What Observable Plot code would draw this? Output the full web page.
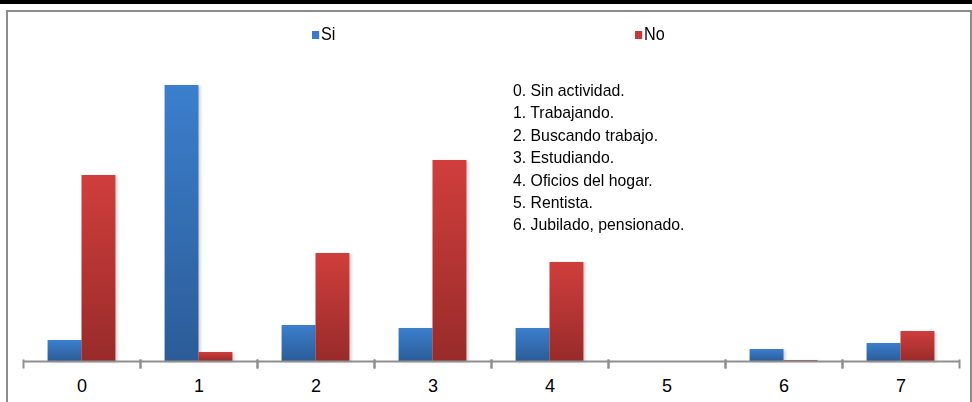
<!DOCTYPE html>
<html>
<head>
<meta charset="utf-8">
<script src="https://cdn.jsdelivr.net/npm/d3@7"></script>
<script src="https://cdn.jsdelivr.net/npm/@observablehq/plot@0.6"></script>
<style>
  html, body { margin: 0; padding: 0; background: #fff; }
  #wrap { position: relative; width: 972px; height: 402px; overflow: hidden; background: #fff;
          font-family: "Liberation Sans", Arial, sans-serif; }
  #topbar { position: absolute; left: 0; top: 0; width: 972px; height: 4px; background: #000; }
  #frame { position: absolute; left: 6px; top: 10px; width: 962px; height: 420px;
           border: 2px solid #8c8c8c; border-bottom: none; }
  #chart { position: absolute; left: 0; top: 0; }
  .leg { position: absolute; top: 24px; font-size: 18px; color: #000; line-height: 20px;
         transform: scaleX(0.9); transform-origin: left center; white-space: nowrap; }
  .leg span.sw { display: inline-block; width: 8px; height: 8px; margin-right: 2px; vertical-align: 1px; }
  #notes { position: absolute; left: 513px; top: 80px; font-size: 17px; line-height: 22.4px; color: #000;
           transform: scaleX(0.93); transform-origin: left top; white-space: nowrap; }
  #chart svg { overflow: visible; }
  #chart rect.bar { filter: drop-shadow(2px 1px 1.5px rgba(0,0,0,0.18)); }
  #chart g[aria-label="fx-axis tick label"] { font-size: 18px; }
  #chart g[aria-label="fx-axis tick label"] text { fill: #000; }
</style>
</head>
<body>
<div id="wrap">
  <div id="topbar"></div>
  <div id="frame"></div>
  <div id="chart"></div>
  <div id="legend"></div>
  <div id="notes"></div>
</div>
<script>
// ---- data ----
const categories = ["0", "1", "2", "3", "4", "5", "6", "7"];
const series = ["Si", "No"];
const siValues = [7, 92, 12, 11, 11, 0, 4, 6];
const noValues = [62, 3, 36, 67, 33, 0, 0.3, 10];
const seriesColors = ["#3a7bc8", "#c43a38"];
const notes = [
  "0. Sin actividad.",
  "1. Trabajando.",
  "2. Buscando trabajo.",
  "3. Estudiando.",
  "4. Oficios del hogar.",
  "5. Rentista.",
  "6. Jubilado, pensionado."
];

const table = [];
categories.forEach((c, i) => {
  table.push({cat: c, serie: "Si", value: siValues[i]});
  table.push({cat: c, serie: "No", value: noValues[i]});
});

const plot = Plot.plot({
  width: 972,
  height: 402,
  marginLeft: 21,
  marginRight: 12,
  marginTop: 61,
  marginBottom: 41,
  style: {background: "transparent", fontFamily: "\"Liberation Sans\", Arial, sans-serif"},
  fx: {domain: categories, padding: 0, axis: "bottom", label: null, tickSize: 0, tickPadding: 18},
  x: {domain: series, axis: null, paddingInner: 0, paddingOuter: 0.725, round: false},
  y: {domain: [0, 100], axis: null},
  marks: [
    Plot.barY(table, {
      fx: "cat", x: "serie", y: "value",
      fill: d => d.serie === "Si" ? "url(#gradSi)" : "url(#gradNo)",
      inset: 0
    }),
    Plot.ruleY([0], {stroke: "#8f8f8f", strokeWidth: 2}),
    Plot.frame({anchor: "left", stroke: "#8f8f8f", strokeWidth: 2, insetTop: 299, insetBottom: -6}),
    Plot.frame({anchor: "right", stroke: "#8f8f8f", strokeWidth: 2, insetTop: 299, insetBottom: -6})
  ]
});

const svg = d3.select(plot);
svg.selectAll("g[aria-label='bar'] rect").attr("class", "bar");
const defs = svg.insert("defs", ":first-child");
function grad(id, top, bottom) {
  const g = defs.append("linearGradient").attr("id", id)
    .attr("x1", 0).attr("y1", 0).attr("x2", 0).attr("y2", 1);
  g.append("stop").attr("offset", "0%").attr("stop-color", top);
  g.append("stop").attr("offset", "100%").attr("stop-color", bottom);
}
grad("gradSi", "#3b7fcd", "#2c5c98");
grad("gradNo", "#d03e3c", "#982b2a");
document.getElementById("chart").appendChild(plot);

// legend
const legend = document.getElementById("legend");
const legendX = [312, 635];
series.forEach((s, i) => {
  const d = document.createElement("div");
  d.className = "leg";
  d.style.left = legendX[i] + "px";
  d.innerHTML = `<span class="sw" style="background:${seriesColors[i]}"></span>${s}`;
  legend.appendChild(d);
});

// notes
document.getElementById("notes").innerHTML = notes.map(n => `<div>${n}</div>`).join("");
</script>
</body>
</html>
